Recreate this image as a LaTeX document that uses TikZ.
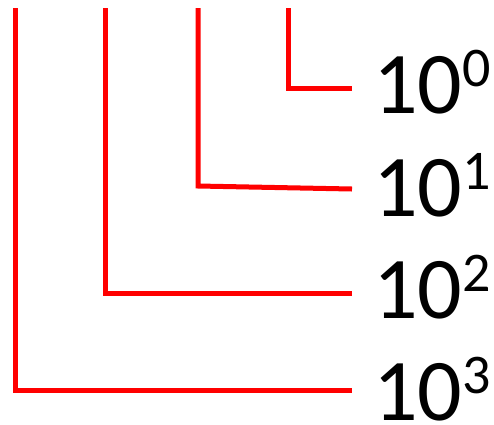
\documentclass[tikz,border=0pt]{standalone}
\usepackage{fontspec}
\setmainfont{Carlito}
\begin{document}
\begin{tikzpicture}[x=1pt,y=-1pt,
  bracket/.style={draw=red,line width=5pt,line join=miter},
  power/.style={anchor=base west,inner sep=0pt,font=\fontsize{88}{88}\selectfont}]
\useasboundingbox (0,0) rectangle (494,424);
\newcommand{\pw}[1]{10\raisebox{27pt}{\fontsize{56}{56}\selectfont #1}}
\coordinate (t0) at (288,8);
\coordinate (t1) at (198,8);
\coordinate (t2) at (105,8);
\coordinate (t3) at (15,8);
\coordinate (c0) at (288,88);
\coordinate (c1) at (198,186);
\coordinate (c2) at (105,293);
\coordinate (c3) at (15,390);
\coordinate (e0) at (352,88);
\coordinate (e1) at (352,189);
\coordinate (e2) at (352,293);
\coordinate (e3) at (352,390);
\node[power] (p0) at (373,113) {\pw{0}};
\node[power] (p1) at (373,216) {\pw{1}};
\node[power] (p2) at (373,318) {\pw{2}};
\node[power] (p3) at (373,420) {\pw{3}};
\draw[bracket] (t0) -- (c0) -- (e0);
\draw[bracket] (t1) -- (c1) -- (e1);
\draw[bracket] (t2) -- (c2) -- (e2);
\draw[bracket] (t3) -- (c3) -- (e3);
\end{tikzpicture}
\end{document}
